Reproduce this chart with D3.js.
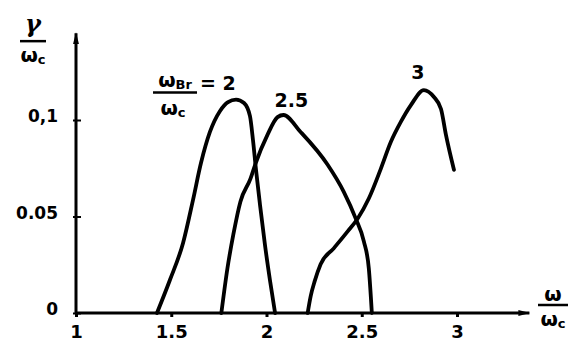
<!DOCTYPE html>
<html>
<head>
<meta charset="utf-8">
<script src="https://cdn.jsdelivr.net/npm/d3@7"></script>
<style>
  body { margin: 0; background: #fff; }
  svg text { font-family: "DejaVu Sans", sans-serif; font-weight: bold; fill: #000; }
</style>
</head>
<body>
<div id="chart"></div>
<script>
// tick labels
const xTicks = [1, 1.5, 2, 2.5, 3];
const xTickLabels = ["1", "1.5", "2", "2.5", "3"];
const yTicks = [0, 0.05, 0.1];
const yTickLabels = ["0", "0.05", "0,1"];

// curve labels (omega_Br / omega_c)
const curveNames = ["2", "2.5", "3"];

// series values: omega/omega_c and gamma/omega_c
const omega2 = [1.425, 1.493, 1.562, 1.614, 1.656, 1.703, 1.756, 1.798, 1.840, 1.882, 1.913, 1.929, 1.945, 1.966, 1.992, 2.018, 2.045];
const gamma2 = [0, 0.0171, 0.0363, 0.0585, 0.0777, 0.0938, 0.1047, 0.1093, 0.1106, 0.1088, 0.1021, 0.0896, 0.0741, 0.0560, 0.0352, 0.0171, 0];

const omega25 = [1.763, 1.795, 1.826, 1.863, 1.916, 1.942, 2.005, 2.058, 2.089, 2.179, 2.321, 2.405, 2.468, 2.511, 2.537, 2.553];
const gamma25 = [0, 0.0232, 0.0407, 0.0577, 0.0696, 0.0773, 0.0923, 0.1015, 0.1026, 0.0938, 0.0768, 0.0629, 0.0490, 0.0371, 0.0232, 0];

const omega3 = [2.216, 2.232, 2.253, 2.284, 2.353, 2.426, 2.479, 2.537, 2.600, 2.653, 2.705, 2.758, 2.826, 2.879, 2.916, 2.942, 2.984];
const gamma3 = [0, 0.0088, 0.0165, 0.0253, 0.0335, 0.0423, 0.0490, 0.0593, 0.0747, 0.0887, 0.0990, 0.1077, 0.1155, 0.1119, 0.1057, 0.0923, 0.0742];

// how far the arrowed axes run
const xAxisEnd = 3.38;
const yAxisEnd = 0.145;

const width = 572;
const height = 343;

const svg = d3.select("#chart")
  .append("svg")
  .attr("width", width)
  .attr("height", height);

const x = d3.scaleLinear().domain([1, 3]).range([76, 457]);
const y = d3.scaleLinear().domain([0, 0.1]).range([313, 120]);

// arrow heads
const defs = svg.append("defs");
defs.append("marker")
  .attr("id", "arrow")
  .attr("viewBox", "0 0 12 8")
  .attr("refX", 11)
  .attr("refY", 4)
  .attr("markerWidth", 12)
  .attr("markerHeight", 8)
  .attr("markerUnits", "userSpaceOnUse")
  .attr("orient", "auto")
  .append("path")
  .attr("d", "M0,1 L12,4 L0,7 Z")
  .attr("fill", "#000");

// axis lines
svg.append("line")
  .attr("x1", x(1)).attr("y1", y(0))
  .attr("x2", x(xAxisEnd)).attr("y2", y(0))
  .attr("stroke", "#000").attr("stroke-width", 3)
  .attr("marker-end", "url(#arrow)");

svg.append("line")
  .attr("x1", x(1)).attr("y1", y(0))
  .attr("x2", x(1)).attr("y2", y(yAxisEnd))
  .attr("stroke", "#000").attr("stroke-width", 3)
  .attr("marker-end", "url(#arrow)");

// x axis ticks and labels
const xAxis = d3.axisBottom(x)
  .tickValues(xTicks)
  .tickSize(4)
  .tickPadding(8)
  .tickFormat((d, i) => xTickLabels[i]);

const gx = svg.append("g")
  .attr("transform", `translate(0,${y(0)})`)
  .call(xAxis);
gx.select(".domain").remove();
gx.selectAll(".tick line").attr("stroke", "#000").attr("stroke-width", 3);
gx.selectAll(".tick text")
  .style("font-size", "18px")
  .style("font-family", "\"DejaVu Sans\", sans-serif")
  .style("font-weight", "bold");

// y axis ticks and labels
const yAxis = d3.axisRight(y)
  .tickValues(yTicks)
  .tickSize(5)
  .tickFormat((d, i) => yTickLabels[i]);

const gy = svg.append("g")
  .attr("transform", `translate(${x(1)},0)`)
  .call(yAxis);
gy.select(".domain").remove();
gy.selectAll(".tick line")
  .attr("x1", -3)
  .attr("stroke", "#000").attr("stroke-width", 2);
gy.selectAll(".tick text")
  .attr("x", -18)
  .attr("dy", "0.1em")
  .attr("text-anchor", "end")
  .style("font-size", "17px")
  .style("font-family", "\"DejaVu Sans\", sans-serif")
  .style("font-weight", "bold");

// curves
const series = [
  { name: curveNames[0], omega: omega2, gamma: gamma2 },
  { name: curveNames[1], omega: omega25, gamma: gamma25 },
  { name: curveNames[2], omega: omega3, gamma: gamma3 }
];

const line = d3.line()
  .x(d => x(d[0]))
  .y(d => y(d[1]))
  .curve(d3.curveMonotoneX);

svg.selectAll("path.curve")
  .data(series)
  .enter()
  .append("path")
  .attr("class", "curve")
  .attr("d", d => line(d.omega.map((o, i) => [o, d.gamma[i]])))
  .attr("fill", "none")
  .attr("stroke", "#000")
  .attr("stroke-width", 3.8)
  .attr("stroke-linecap", "round")
  .attr("stroke-linejoin", "round");

// curve labels near each peak
function peak(s) {
  const i = d3.maxIndex(s.gamma);
  return [s.omega[i], s.gamma[i]];
}

const p25 = peak(series[1]);
svg.append("text")
  .attr("x", x(p25[0]) + 8)
  .attr("y", y(p25[1]) - 8)
  .attr("text-anchor", "middle")
  .style("font-size", "19px")
  .text(curveNames[1]);

const p3 = peak(series[2]);
svg.append("text")
  .attr("x", x(p3[0]) - 6)
  .attr("y", y(p3[1]) - 11)
  .attr("text-anchor", "middle")
  .style("font-size", "19px")
  .text(curveNames[2]);

// fraction label for the first curve: omega_Br / omega_c = 2
const p2 = peak(series[0]);
const fx = x(p2[0]) - 61;
const fy = y(p2[1]) - 7;
const frac = svg.append("g").attr("transform", `translate(${fx},${fy})`);
const fracTop = frac.append("text")
  .attr("x", 0).attr("y", -6)
  .attr("text-anchor", "middle")
  .style("font-size", "20px");
fracTop.append("tspan").text("ω");
fracTop.append("tspan").attr("dy", 2).style("font-size", "13px").text("Br");
frac.append("line")
  .attr("x1", -22).attr("x2", 22)
  .attr("y1", 0).attr("y2", 0)
  .attr("stroke", "#000").attr("stroke-width", 2.5);
const fracBot = frac.append("text")
  .attr("x", -2).attr("y", 22)
  .attr("text-anchor", "middle")
  .style("font-size", "20px");
fracBot.append("tspan").text("ω");
fracBot.append("tspan").attr("dy", 2).style("font-size", "13px").text("c");
frac.append("text")
  .attr("x", 25).attr("y", -3)
  .style("font-size", "19px")
  .text("= " + curveNames[0]);

// y axis title: gamma / omega_c
const yt = svg.append("g").attr("transform", `translate(33,${y(yAxisEnd) + 8})`);
yt.append("text")
  .attr("x", 0).attr("y", -9)
  .attr("text-anchor", "middle")
  .style("font-size", "24px")
  .style("font-family", "\"DejaVu Serif\", serif")
  .style("font-style", "italic")
  .text("γ");
yt.append("line")
  .attr("x1", -13).attr("x2", 13)
  .attr("y1", 0).attr("y2", 0)
  .attr("stroke", "#000").attr("stroke-width", 2.5);
const ytb = yt.append("text")
  .attr("x", 0).attr("y", 21)
  .attr("text-anchor", "middle")
  .style("font-size", "20px");
ytb.append("tspan").text("ω");
ytb.append("tspan").attr("dy", 2).style("font-size", "13px").text("c");

// x axis title: omega / omega_c
const xt = svg.append("g").attr("transform", `translate(553,${y(0) - 8})`);
xt.append("text")
  .attr("x", 0).attr("y", -4)
  .attr("text-anchor", "middle")
  .style("font-size", "20px")
  .text("ω");
xt.append("line")
  .attr("x1", -15).attr("x2", 15)
  .attr("y1", 0).attr("y2", 0)
  .attr("stroke", "#000").attr("stroke-width", 2.5);
const xtb = xt.append("text")
  .attr("x", 0).attr("y", 21)
  .attr("text-anchor", "middle")
  .style("font-size", "20px");
xtb.append("tspan").text("ω");
xtb.append("tspan").attr("dy", 2).style("font-size", "13px").text("c");
</script>
</body>
</html>
